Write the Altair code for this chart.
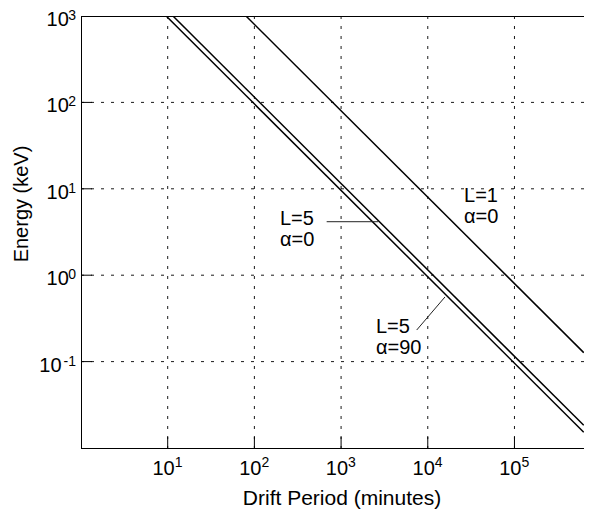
import altair as alt
import pandas as pd

# ---- data ----
series = ["L=1 α=0", "L=5 α=0", "L=5 α=90"]
period_start = [80, 11.5, 9.6]          # minutes, where each line meets the top (1000 keV)
period_end = [630000, 630000, 630000]   # minutes, right edge
energy_start = [1000, 1000, 1000]       # keV
energy_end = [0.127, 0.0183, 0.0152]    # keV

x_tick_vals = [10, 100, 1000, 10000, 100000]
x_tick_exp = ["1", "2", "3", "4", "5"]
y_tick_vals = [0.1, 1, 10, 100, 1000]
y_tick_exp = ["-1", "0", "1", "2", "3"]

label_text = ["L=5\nα=0", "L=5\nα=90", "L=1\nα=0"]
label_T = [197, 2528, 26200]
label_E = [3.81, 0.216, 7.09]

leader_T1 = [682, 7450]
leader_E1 = [4.16, 0.232]
leader_T2 = [2686, 15800]
leader_E2 = [4.16, 0.560]

x_title = "Drift Period (minutes)"
y_title = "Energy (keV)"

FONT = "Liberation Sans"
W, H = 503, 432

lines_df = pd.DataFrame({
    "series": series * 2,
    "T": period_start + period_end,
    "E": energy_start + energy_end,
})
xt_df = pd.DataFrame({"v": x_tick_vals, "e": x_tick_exp})
yt_df = pd.DataFrame({"v": y_tick_vals, "e": y_tick_exp})
ygrid_df = yt_df[yt_df.v < 1000]
lab_df = pd.DataFrame({"t": label_text, "T": label_T, "E": label_E})
lead_df = pd.DataFrame({"T": leader_T1, "E": leader_E1, "T2": leader_T2, "E2": leader_E2})
one = pd.DataFrame({"a": [0]})

xs = alt.Scale(type="log", domain=[1, 634000], nice=False)
ys = alt.Scale(type="log", domain=[0.01, 1000], nice=False)

DASH = [3, 7]

xgrid = alt.Chart(xt_df).mark_rule(color="black", strokeWidth=1, strokeDash=DASH, opacity=0.9).encode(
    x=alt.X("v:Q", scale=xs, axis=None), y=alt.value(0), y2=alt.value(H))
ygrid = alt.Chart(ygrid_df).mark_rule(color="black", strokeWidth=1, strokeDash=DASH, opacity=0.9).encode(
    y=alt.Y("v:Q", scale=ys, axis=None), x=alt.value(0), x2=alt.value(W))

lines = alt.Chart(lines_df).mark_line(color="black", strokeWidth=1.5, clip=True).encode(
    x=alt.X("T:Q", scale=xs, axis=None),
    y=alt.Y("E:Q", scale=ys, axis=None),
    detail="series:N",
)

top_border = alt.Chart(one).mark_rule(color="black", strokeWidth=1).encode(
    x=alt.value(0), x2=alt.value(W), y=alt.value(0.5))
bottom_border = alt.Chart(one).mark_rule(color="black", strokeWidth=1).encode(
    x=alt.value(0), x2=alt.value(W), y=alt.value(H + 0.5))
left_border = alt.Chart(one).mark_rule(color="black", strokeWidth=1).encode(
    x=alt.value(0.5), y=alt.value(0), y2=alt.value(H + 1))

xticks = alt.Chart(xt_df).mark_rule(color="black", strokeWidth=1).encode(
    x=alt.X("v:Q", scale=xs, axis=None), y=alt.value(H), y2=alt.value(H - 11))
yticks = alt.Chart(ygrid_df).mark_rule(color="black", strokeWidth=1).encode(
    y=alt.Y("v:Q", scale=ys, axis=None), x=alt.value(0), x2=alt.value(11))

xlab_base = alt.Chart(xt_df).mark_text(font=FONT, fontSize=20, align="right", baseline="alphabetic", dx=7).encode(
    x=alt.X("v:Q", scale=xs, axis=None), y=alt.value(H + 27), text=alt.value("10"))
xlab_exp = alt.Chart(xt_df).mark_text(font=FONT, fontSize=14, align="left", baseline="alphabetic", dx=7).encode(
    x=alt.X("v:Q", scale=xs, axis=None), y=alt.value(H + 19), text="e:N")

ylab_base = alt.Chart(yt_df).transform_calculate(
    bx="-5 - length(datum.e) * 7.2"
).mark_text(font=FONT, fontSize=20, align="right", baseline="alphabetic", dy=10).encode(
    y=alt.Y("v:Q", scale=ys, axis=None), x=alt.X("bx:Q", scale=None, axis=None), text=alt.value("10"))
ylab_exp = alt.Chart(yt_df).mark_text(font=FONT, fontSize=14, align="right", baseline="alphabetic", dy=4).encode(
    y=alt.Y("v:Q", scale=ys, axis=None), x=alt.value(-5), text="e:N")

xtitle = alt.Chart(one).mark_text(font=FONT, fontSize=21, align="center", baseline="alphabetic").encode(
    x=alt.value(261), y=alt.value(H + 57), text=alt.value(x_title))
ytitle = alt.Chart(one).mark_text(font=FONT, fontSize=20, align="center", baseline="alphabetic", angle=270).encode(
    x=alt.value(-53), y=alt.value(188), text=alt.value(y_title))

labels = alt.Chart(lab_df).mark_text(font=FONT, fontSize=20, align="left", baseline="alphabetic",
                                     lineBreak="\n", lineHeight=21).encode(
    x=alt.X("T:Q", scale=xs, axis=None), y=alt.Y("E:Q", scale=ys, axis=None), text="t:N")

leaders = alt.Chart(lead_df).mark_rule(color="#222", strokeWidth=1).encode(
    x=alt.X("T:Q", scale=xs, axis=None), y=alt.Y("E:Q", scale=ys, axis=None),
    x2="T2:Q", y2="E2:Q")

chart = alt.layer(
    xgrid, ygrid, lines, top_border, bottom_border, left_border, xticks, yticks,
    xlab_base, xlab_exp, ylab_base, ylab_exp, xtitle, ytitle, labels, leaders
).properties(
    width=W, height=H,
    padding={"left": 73, "top": 8, "right": 0, "bottom": 62},
    autosize=alt.AutoSizeParams(type="none"),
).configure_view(stroke=None)

chart.save("out.html", embed_options={"renderer": "svg", "actions": False})
